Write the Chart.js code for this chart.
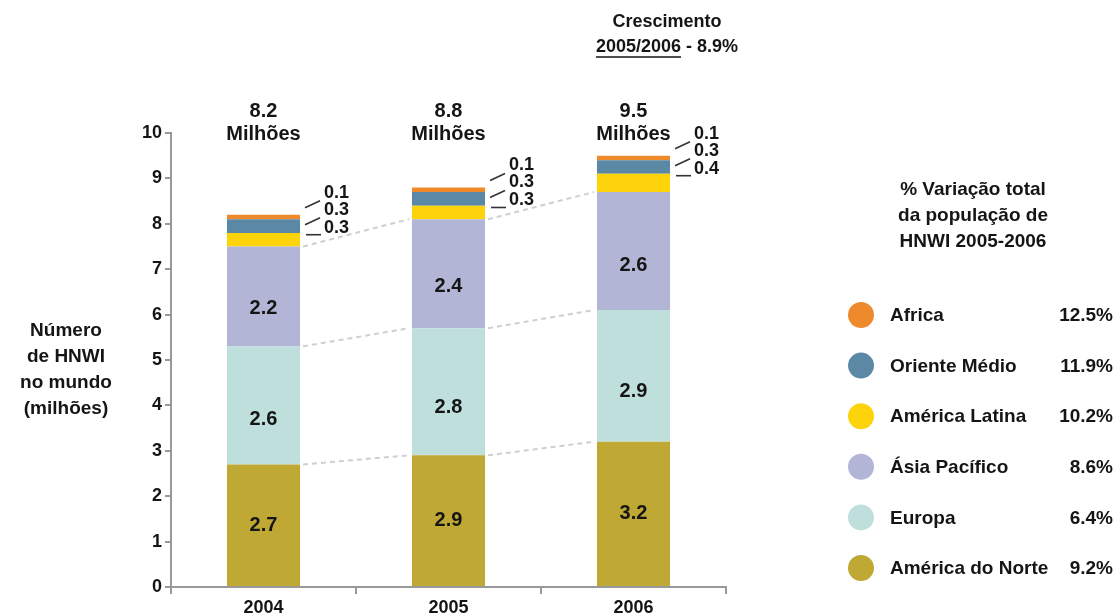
<!DOCTYPE html>
<html>
<head>
<meta charset="utf-8">
<script src="https://cdn.jsdelivr.net/npm/chart.js@4.4.1/dist/chart.umd.min.js"></script>
<style>
  html, body { margin: 0; padding: 0; background: #fff; }
  #wrap { position: relative; width: 1115px; height: 616px; }
</style>
</head>
<body>
<div id="wrap"><canvas id="chart" width="1115" height="616"></canvas></div>
<script>
// Data
const years = ['2004', '2005', '2006'];
const americaNorte = [2.7, 2.9, 3.2];
const europa = [2.6, 2.8, 2.9];
const asiaPacifico = [2.2, 2.4, 2.6];
const americaLatina = [0.3, 0.3, 0.4];
const orienteMedio = [0.3, 0.3, 0.3];
const africa = [0.1, 0.1, 0.1];

const regionNames = ['América do Norte', 'Europa', 'Ásia Pacífico', 'América Latina', 'Oriente Médio', 'Africa'];
const regionColors = ['#BFA934', '#BEDFDC', '#B3B5D6', '#FDD30C', '#5B88A5', '#EE8A2C'];
const growthPct = ['9.2%', '6.4%', '8.6%', '10.2%', '11.9%', '12.5%'];
const totalUnit = 'Milhões';
const headerLines = ['Crescimento', '2005/2006', ' - 8.9%'];
const yTitle = ['Número', 'de HNWI', 'no mundo', '(milhões)'];
const legendTitle = ['% Variação total', 'da população de', 'HNWI 2005-2006'];

const FONT = '"Liberation Sans", Arial, sans-serif';
const series = [americaNorte, europa, asiaPacifico, americaLatina, orienteMedio, africa];

// draws the labels, connectors and the legend
const annotations = {
  id: 'annotations',
  afterDatasetsDraw(chart) {
    const ctx = chart.ctx;
    const metas = series.map((_, i) => chart.getDatasetMeta(i));
    ctx.save();

    // dashed connectors between tops of the three big segments
    ctx.strokeStyle = '#cfcfcf';
    ctx.lineWidth = 2;
    ctx.setLineDash([5, 4]);
    for (let d = 0; d < 3; d++) {
      const bars = metas[d].data;
      for (let i = 0; i < bars.length - 1; i++) {
        const a = bars[i], b = bars[i + 1];
        ctx.beginPath();
        ctx.moveTo(a.x + a.width / 2 + 3, a.y);
        ctx.lineTo(b.x - b.width / 2 - 3, b.y);
        ctx.stroke();
      }
    }
    ctx.setLineDash([]);

    // values inside the big segments
    ctx.fillStyle = '#151515';
    ctx.font = 'bold 20px ' + FONT;
    ctx.textAlign = 'center';
    ctx.textBaseline = 'middle';
    for (let d = 0; d < 3; d++) {
      metas[d].data.forEach((bar, i) => {
        const frac = d === 0 ? 0.5 : 0.62;
        const y = bar.y + (bar.base - bar.y) * frac;
        ctx.fillText(series[d][i].toFixed(1), bar.x, y);
      });
    }

    // small segments labelled on the right with leader lines
    const offs = [-22, -5, 13];
    ctx.font = 'bold 18px ' + FONT;
    ctx.textAlign = 'left';
    ctx.strokeStyle = '#333';
    ctx.lineWidth = 1.6;
    metas[5].data.forEach((top, i) => {
      const right = top.x + top.width / 2;
      [5, 4, 3].forEach((d, k) => {
        const ly = top.y + offs[k];
        ctx.fillText(series[d][i].toFixed(1), right + 24, ly);
        ctx.beginPath();
        if (k < 2) {
          ctx.moveTo(right + 5, ly + 15);
          ctx.lineTo(right + 20, ly + 8);
        } else {
          ctx.moveTo(right + 6, ly + 7);
          ctx.lineTo(right + 21, ly + 7);
        }
        ctx.stroke();
      });
    });

    // totals above the bars
    ctx.textAlign = 'center';
    ctx.font = 'bold 20px ' + FONT;
    metas[0].data.forEach((bar, i) => {
      const total = series.reduce((s, arr) => s + arr[i], 0);
      ctx.fillText(total.toFixed(1), bar.x, 111);
      ctx.fillText(totalUnit, bar.x, 134);
    });

    // header at top
    ctx.font = 'bold 18px ' + FONT;
    ctx.fillText(headerLines[0], 667, 22);
    const w1 = ctx.measureText(headerLines[1]).width;
    const w2 = ctx.measureText(headerLines[2]).width;
    const startX = 667 - (w1 + w2) / 2;
    ctx.textAlign = 'left';
    ctx.fillText(headerLines[1], startX, 47);
    ctx.fillText(headerLines[2], startX + w1, 47);
    ctx.beginPath();
    ctx.strokeStyle = '#151515';
    ctx.lineWidth = 1.5;
    ctx.moveTo(startX, 57);
    ctx.lineTo(startX + w1, 57);
    ctx.stroke();

    // y axis title
    ctx.textAlign = 'center';
    ctx.font = 'bold 19px ' + FONT;
    yTitle.forEach((t, i) => ctx.fillText(t, 66, 331 + i * 26));

    // legend on the right
    ctx.font = 'bold 19px ' + FONT;
    legendTitle.forEach((t, i) => ctx.fillText(t, 973, 190 + i * 26));
    for (let k = 0; k < series.length; k++) {
      const d = series.length - 1 - k;
      const y = 315 + k * 50.6;
      ctx.beginPath();
      ctx.fillStyle = regionColors[d];
      ctx.arc(861, y, 13, 0, Math.PI * 2);
      ctx.fill();
      ctx.fillStyle = '#151515';
      ctx.textAlign = 'left';
      ctx.fillText(regionNames[d], 890, y + 1);
      ctx.textAlign = 'right';
      ctx.fillText(growthPct[d], 1113, y + 1);
    }
    ctx.restore();
  }
};

new Chart(document.getElementById('chart'), {
  type: 'bar',
  data: {
    labels: years,
    datasets: series.map((arr, i) => ({
      label: regionNames[i],
      data: arr,
      backgroundColor: regionColors[i],
      borderWidth: 0,
      barPercentage: 0.79,
      categoryPercentage: 0.5
    }))
  },
  options: {
    responsive: false,
    animation: false,
    layout: { padding: { top: 133, right: 389, left: 0, bottom: 0 } },
    plugins: { legend: { display: false }, tooltip: { enabled: false } },
    scales: {
      x: {
        stacked: true,
        afterFit(scale) { scale.height = 29; },
        grid: { drawOnChartArea: false, drawTicks: true, tickLength: 7, color: '#999', lineWidth: 2 },
        border: { color: '#999', width: 2 },
        ticks: { color: '#151515', font: { family: FONT, size: 18, weight: 'bold' }, padding: 3 }
      },
      y: {
        stacked: true,
        min: 0,
        max: 10,
        afterFit(scale) { scale.width = 171; },
        grid: { drawOnChartArea: false, drawTicks: true, tickLength: 6, color: '#999', lineWidth: 2 },
        border: { color: '#999', width: 2 },
        ticks: { stepSize: 1, color: '#151515', font: { family: FONT, size: 18, weight: 'bold' }, padding: 3 }
      }
    }
  },
  plugins: [annotations]
});
</script>
</body>
</html>
